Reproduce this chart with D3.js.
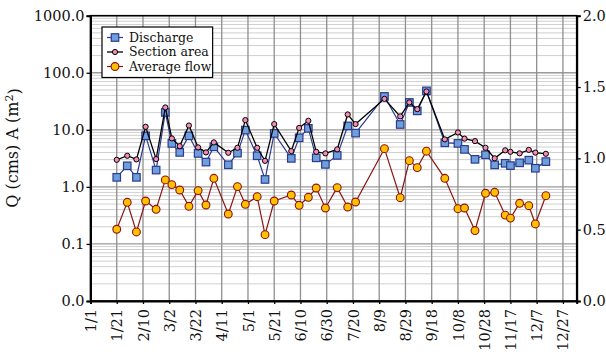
<!DOCTYPE html>
<html>
<head>
<meta charset="utf-8">
<script src="https://cdn.jsdelivr.net/npm/d3@7"></script>
<style>
  body { margin: 0; background: #fff; }
  svg { display: block; }
  text { font-family: "DejaVu Serif", serif; fill: #111; }
</style>
</head>
<body>
<svg id="chart" width="606" height="354"></svg>
<script>
// Sampling dates (month/day) through the year
const sampleDates = ["1/21","1/29","2/5","2/12","2/20","2/27","3/4","3/10","3/17","3/24","3/30","4/5",
  "4/16","4/23","4/29","5/8","5/14","5/21","6/3","6/9","6/16","6/22","6/29","7/8","7/16","7/22",
  "8/13","8/25","9/1","9/7","9/14","9/28","10/8","10/13","10/21","10/29","11/5","11/13","11/17",
  "11/24","12/1","12/6","12/14"];

// Discharge Q (cms), left log axis
const discharge = [1.47,2.34,1.47,7.85,1.97,20.2,5.78,4.02,7.85,3.86,2.72,5.04,
  2.44,3.91,9.88,3.51,1.35,8.65,3.16,7.24,10.6,3.23,2.48,3.56,11.7,8.75,
  38.5,12.4,30.2,21.5,48.2,5.92,5.78,4.54,3.04,3.65,2.43,2.59,2.36,
  2.64,2.94,2.12,2.77];

// Section area A (m²), left log axis
const sectionArea = [2.98,3.51,3.03,11.3,3.07,24.7,7.07,5.18,11.9,4.92,4.02,6.02,
  3.96,4.84,14.8,4.84,2.86,12.6,4.24,10.8,14.4,4.12,3.86,4.54,18.6,12.6,
  34.9,17.2,30.2,23.0,47.0,6.79,9.0,7.01,6.34,4.84,3.17,4.37,4.12,
  3.87,4.45,3.99,3.80];

// Average flow velocity, right linear axis
const averageFlow = [0.503,0.692,0.484,0.701,0.643,0.849,0.816,0.778,0.664,0.774,0.673,0.860,
  0.610,0.802,0.678,0.731,0.465,0.701,0.743,0.671,0.727,0.792,0.652,0.795,0.659,0.694,
  1.068,0.724,0.984,0.935,1.050,0.860,0.647,0.652,0.494,0.755,0.762,0.602,0.581,
  0.685,0.668,0.540,0.738];

const xTickLabels = ["1/1","1/21","2/10","3/2","3/22","4/11","5/1","5/21","6/10","6/30",
  "7/20","8/9","8/29","9/18","10/8","10/28","11/17","12/7","12/27"];
const leftTicks = [0.01, 0.1, 1, 10, 100, 1000];
const rightTicks = [0, 0.5, 1.0, 1.5, 2.0];
const seriesNames = ["Discharge", "Section area", "Average flow"];

const YEAR = 2019;
const parseMD = s => { const [m, d] = s.split("/").map(Number); return new Date(YEAR, m - 1, d); };

const margin = { left: 90.5, right: 606 - 576.7, top: 15.7, bottom: 354 - 301 };
const W = 606, H = 354;
const svg = d3.select("#chart");

const x = d3.scaleTime()
  .domain([new Date(YEAR, 0, 1), new Date(YEAR + 1, 0, 6, 12)])
  .range([margin.left, W - margin.right]);
const yL = d3.scaleLog().domain([0.01, 1000]).range([H - margin.bottom, margin.top]);
const yR = d3.scaleLinear().domain([0, 2]).range([H - margin.bottom, margin.top]);

const x0 = margin.left, x1 = W - margin.right, y0 = H - margin.bottom, y1 = margin.top;

const pts = sampleDates.map((s, i) => ({
  date: parseMD(s), q: discharge[i], a: sectionArea[i], v: averageFlow[i]
}));

// Grid
const grid = svg.append("g");
// minor log lines
const minor = [];
for (let e = -2; e < 3; e++) for (let k = 2; k <= 9; k++) minor.push(k * Math.pow(10, e));
grid.selectAll(".minor").data(minor).join("line")
  .attr("x1", x0).attr("x2", x1)
  .attr("y1", d => yL(d)).attr("y2", d => yL(d))
  .attr("stroke", "#d0d0d0").attr("stroke-width", 1);
grid.selectAll(".major").data(leftTicks).join("line")
  .attr("x1", x0).attr("x2", x1)
  .attr("y1", d => yL(d)).attr("y2", d => yL(d))
  .attr("stroke", "#9a9a9a").attr("stroke-width", 1.3);
const xTickDates = xTickLabels.map(parseMD);
grid.selectAll(".vx").data(xTickDates).join("line")
  .attr("x1", d => x(d)).attr("x2", d => x(d))
  .attr("y1", y0).attr("y2", y1)
  .attr("stroke", "#8f8f8f").attr("stroke-width", 1.3);

// Series lines and markers
const lineQ = d3.line().x(d => x(d.date)).y(d => yL(d.q));
const lineA = d3.line().x(d => x(d.date)).y(d => yL(d.a));
const lineV = d3.line().x(d => x(d.date)).y(d => yR(d.v));

const colQ = "#2b3a8f", fillQ = "#6f9fda";
const colA = "#000000", fillA = "#f48cb8";
const colV = "#8b1414", fillV = "#ffc000";

const drawQ = g => g.append("rect").attr("width", 7.5).attr("height", 7.5).attr("x", -3.75).attr("y", -3.75)
  .attr("fill", fillQ).attr("stroke", colQ).attr("stroke-width", 1.2);
const drawA = g => g.append("circle").attr("r", 2.6)
  .attr("fill", fillA).attr("stroke", colA).attr("stroke-width", 1);
const drawV = g => g.append("circle").attr("r", 3.9)
  .attr("fill", fillV).attr("stroke", colV).attr("stroke-width", 1.1);

svg.append("path").datum(pts).attr("d", lineQ).attr("fill", "none").attr("stroke", colQ).attr("stroke-width", 1.2);
svg.append("g").selectAll("g").data(pts).join("g")
  .attr("transform", d => `translate(${x(d.date)},${yL(d.q)})`).each(function () { drawQ(d3.select(this)); });

svg.append("path").datum(pts).attr("d", lineA).attr("fill", "none").attr("stroke", colA).attr("stroke-width", 1.3);
svg.append("g").selectAll("g").data(pts).join("g")
  .attr("transform", d => `translate(${x(d.date)},${yL(d.a)})`).each(function () { drawA(d3.select(this)); });

svg.append("path").datum(pts).attr("d", lineV).attr("fill", "none").attr("stroke", colV).attr("stroke-width", 1.2);
svg.append("g").selectAll("g").data(pts).join("g")
  .attr("transform", d => `translate(${x(d.date)},${yR(d.v)})`).each(function () { drawV(d3.select(this)); });

// Frame
svg.append("rect").attr("x", x0).attr("y", y1).attr("width", x1 - x0).attr("height", y0 - y1)
  .attr("fill", "none").attr("stroke", "#000").attr("stroke-width", 1.6);

// Axes
const fmt = d3.format(".1f");
const axL = svg.append("g").attr("transform", `translate(${x0},0)`)
  .call(d3.axisLeft(yL).tickValues(leftTicks).tickFormat(fmt).tickSize(4).tickPadding(2));
const axR = svg.append("g").attr("transform", `translate(${x1},0)`)
  .call(d3.axisRight(yR).tickValues(rightTicks).tickFormat(fmt).tickSize(4).tickPadding(2));
const axB = svg.append("g").attr("transform", `translate(0,${y0})`)
  .call(d3.axisBottom(x).tickValues(xTickDates).tickFormat((d, i) => xTickLabels[i]).tickSize(3).tickPadding(2));
[axL, axR, axB].forEach(a => {
  a.select(".domain").attr("stroke", "#000").attr("stroke-width", 2);
  a.selectAll(".tick line").attr("stroke", "#000").attr("stroke-width", 1.3);
  a.selectAll("text").style("font-family", "DejaVu Serif, serif").style("font-size", "14.5px").attr("fill", "#111");
});
axB.selectAll("text")
  .attr("transform", "rotate(-90)")
  .attr("text-anchor", "end")
  .attr("x", -8).attr("y", 0).attr("dy", "0.35em");

// Y-axis title
const title = svg.append("text")
  .attr("transform", `translate(18,148) rotate(-90)`)
  .attr("text-anchor", "middle").style("font-size", "16px");
title.append("tspan").text("Q (cms) A (m");
title.append("tspan").attr("dy", "-0.45em").style("font-size", "11px").text("2");
title.append("tspan").attr("dy", "0.45em").text(")");

// Legend
const leg = svg.append("g").attr("transform", "translate(102,27)");
const legBox = leg.append("rect").attr("fill", "#fff").attr("stroke", "#000").attr("stroke-width", 1.2);
const rows = [
  { name: seriesNames[0], col: colQ, draw: drawQ, lw: 1.2 },
  { name: seriesNames[1], col: colA, draw: drawA, lw: 1.3 },
  { name: seriesNames[2], col: colV, draw: drawV, lw: 1.2 }
];
rows.forEach((r, i) => {
  const gy = 10.5 + i * 14.5;
  const g = leg.append("g").attr("transform", `translate(0,${gy})`);
  g.append("line").attr("x1", 5).attr("x2", 21).attr("stroke", r.col).attr("stroke-width", r.lw);
  r.draw(g.append("g").attr("transform", "translate(13,0)"));
  g.append("text").attr("x", 27).attr("dy", "0.35em").style("font-size", "12.5px").text(r.name);
});
const bb = leg.node().getBBox();
legBox.attr("x", 0).attr("y", 0).attr("width", bb.width + 6).attr("height", 50.5);
</script>
</body>
</html>
